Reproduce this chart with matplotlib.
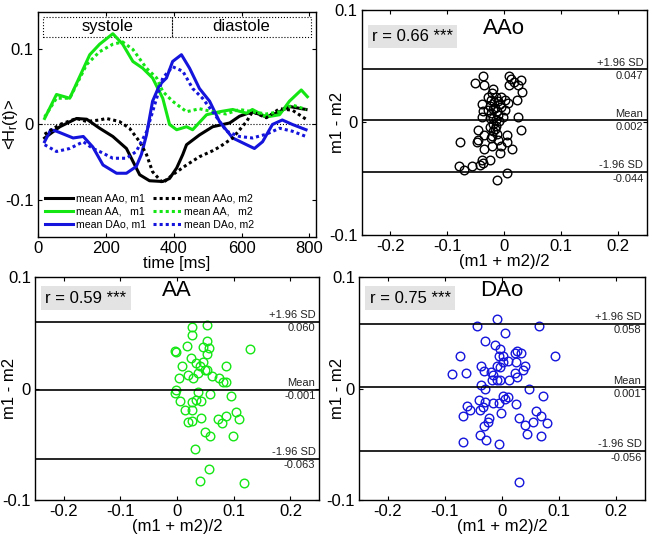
import numpy as np
import matplotlib.pyplot as plt
from matplotlib.patches import Rectangle

plt.rcParams['font.family'] = ['Liberation Sans', 'DejaVu Sans']
plt.rcParams['mathtext.default'] = 'regular'

###############################################################
# helicity curves (top-left)
###############################################################
t_aao1 = [20, 65, 114, 144, 182, 221, 261, 280, 300, 329, 368, 388, 409, 427, 438,
          476, 515, 565, 594, 632, 673, 712, 741, 790]
aao1 = [-0.018, -0.003, 0.008, 0.007, -0.005, -0.016, -0.032, -0.049, -0.067, -0.075,
        -0.076, -0.072, -0.058, -0.040, -0.027, -0.014, -0.003, 0.002, 0.011, 0.017,
        0.010, 0.017, 0.024, 0.020]
t_aao2 = [20, 65, 114, 144, 182, 202, 240, 270, 300, 320, 338, 368, 397, 438, 476,
          515, 535, 574, 615, 632, 673, 712, 750, 790]
aao2 = [-0.013, 0.000, 0.008, 0.004, 0.006, 0.008, 0.004, -0.005, -0.023, -0.040,
        -0.063, -0.078, -0.067, -0.054, -0.043, -0.035, -0.030, -0.018, 0.004, 0.017,
        0.009, 0.021, 0.019, 0.007]
t_aa1 = [20, 55, 94, 153, 182, 221, 250, 280, 309, 338, 368, 388, 409, 438, 456,
         497, 535, 574, 615, 632, 673, 712, 741, 776, 794]
aa1 = [0.008, 0.040, 0.035, 0.093, 0.107, 0.121, 0.107, 0.084, 0.075, 0.062, 0.035,
       0.000, -0.007, -0.003, -0.007, 0.013, 0.017, 0.020, 0.015, 0.020, 0.010, 0.013,
       0.031, 0.046, 0.037]
t_aa2 = [20, 55, 94, 144, 182, 221, 250, 280, 320, 350, 368, 397, 438, 476, 515,
         554, 594, 632, 673, 712, 750, 790]
aa2 = [0.010, 0.035, 0.035, 0.080, 0.097, 0.107, 0.110, 0.100, 0.075, 0.062, 0.044,
       0.031, 0.017, 0.021, 0.017, 0.014, 0.020, 0.017, 0.014, 0.017, 0.026, 0.020]
t_dao1 = [20, 38, 55, 104, 134, 162, 192, 232, 261, 290, 305, 320, 338, 359, 379,
          397, 423, 447, 476, 506, 535, 574, 615, 638, 662, 691, 720, 750, 790]
dao1 = [-0.023, -0.007, -0.009, -0.018, -0.016, -0.030, -0.054, -0.065, -0.065,
        -0.056, -0.040, -0.014, 0.031, 0.053, 0.062, 0.084, 0.093, 0.075, 0.048, 0.031,
        0.004, -0.018, -0.027, -0.032, -0.023, 0.000, 0.006, 0.000, -0.007]
t_dao2 = [20, 55, 94, 134, 162, 182, 221, 261, 290, 320, 338, 368, 397, 427, 456,
          485, 515, 556, 594, 632, 673, 712, 750, 790]
dao2 = [-0.027, -0.036, -0.032, -0.023, -0.032, -0.036, -0.045, -0.045, -0.036,
        -0.010, 0.017, 0.062, 0.077, 0.071, 0.048, 0.035, 0.017, -0.009, -0.016,
        -0.018, -0.013, -0.005, -0.009, -0.016]

phases = ['systole', 'diastole']
phase_edges = [15, 395, 805]

###############################################################
# Bland-Altman data: (m1 + m2)/2 and m1 - m2
###############################################################
aao_mean = [-0.037, -0.051, -0.036, -0.020, 0.008, 0.012, 0.009, 0.017, 0.029, 0.024,
            0.031, 0.023, -0.028, -0.014, -0.005, -0.023, -0.011, 0.001, 0.006, -0.040,
            -0.005, -0.017, -0.029, -0.037, -0.023, -0.011, 0.001, -0.040, -0.026, -0.014,
            -0.002, 0.024, -0.020, -0.026, 0.030, -0.047, -0.020, -0.035, 0.004, -0.023,
            -0.011, -0.046, -0.048, 0.005, -0.077, -0.035, -0.022, -0.006, 0.014, -0.008,
            -0.026, -0.040, -0.037, -0.043, -0.056, -0.080, -0.071, 0.005, -0.012,
            -0.018, -0.012, -0.020, -0.015, -0.019, -0.010, -0.025, -0.017, -0.022,
            -0.008, -0.013, -0.021]
aao_diff = [0.041, 0.035, 0.033, 0.030, 0.041, 0.039, 0.033, 0.036, 0.038, 0.033,
            0.027, 0.020, 0.023, 0.023, 0.023, 0.020, 0.019, 0.020, 0.017, 0.016,
            0.014, 0.013, 0.011, 0.010, 0.008, 0.007, 0.011, 0.005, 0.004, 0.002,
            0.005, 0.005, -0.001, -0.004, -0.007, -0.007, -0.008, -0.011, -0.011, -0.014,
            -0.016, -0.016, -0.017, -0.017, -0.017, -0.024, -0.021, -0.021, -0.024, -0.027,
            -0.033, -0.033, -0.036, -0.038, -0.039, -0.039, -0.042, -0.045, -0.051,
            0.018, 0.010, 0.004, -0.003, 0.012, 0.001, 0.015, -0.006, 0.026,
            0.016, -0.010, -0.012]

aa_mean = [0.026, 0.053, 0.026, 0.052, -0.001, -0.003, 0.018, 0.046, 0.057, 0.053,
           0.128, 0.024, 0.046, 0.034, 0.008, 0.049, 0.040, 0.052, 0.087, 0.004,
           0.020, 0.029, 0.037, 0.062, 0.074, 0.086, 0.081, -0.001, -0.003, 0.037,
           0.058, 0.006, 0.026, 0.034, 0.043, 0.096, 0.014, 0.026, 0.104, 0.109,
           0.020, 0.026, 0.042, 0.072, 0.086, 0.080, 0.049, 0.059, 0.098, 0.031,
           0.057, 0.040, 0.118]
aa_diff = [0.055, 0.057, 0.048, 0.043, 0.033, 0.034, 0.038, 0.037, 0.036, 0.031,
           0.035, 0.027, 0.024, 0.023, 0.020, 0.017, 0.020, 0.017, 0.020, 0.009,
           0.012, 0.009, 0.014, 0.011, 0.009, 0.006, 0.006, -0.001, -0.004, -0.003,
           -0.005, -0.011, -0.012, -0.010, -0.011, -0.007, -0.019, -0.019, -0.021, -0.027,
           -0.030, -0.029, -0.026, -0.027, -0.025, -0.031, -0.039, -0.043, -0.043, -0.054,
           -0.072, -0.083, -0.085]

dao_mean = [-0.008, -0.043, 0.064, 0.006, -0.029, -0.012, -0.003, -0.073, 0.026, 0.034,
            0.022, -0.006, 0.002, 0.011, 0.001, 0.024, 0.093, -0.036, -0.031, -0.019,
            -0.009, -0.003, 0.040, 0.036, 0.023, -0.088, -0.063, -0.015, -0.018, -0.009,
            -0.003, 0.013, 0.027, -0.036, -0.030, 0.047, 0.072, -0.040, -0.030, -0.015,
            -0.005, 0.001, 0.005, 0.011, 0.024, -0.062, -0.056, -0.038, -0.033, -0.002,
            -0.068, -0.022, -0.024, 0.029, 0.059, 0.069, 0.055, 0.078, -0.031, 0.040,
            -0.038, 0.043, 0.069, -0.068, -0.028, -0.005, 0.030]
dao_diff = [0.062, 0.056, 0.056, 0.050, 0.043, 0.039, 0.035, 0.029, 0.034, 0.032,
            0.032, 0.029, 0.029, 0.025, 0.024, 0.024, 0.029, 0.020, 0.016, 0.015,
            0.020, 0.019, 0.020, 0.017, 0.014, 0.013, 0.014, 0.012, 0.008, 0.008,
            0.008, 0.008, 0.010, 0.003, 0.000, 0.000, -0.007, -0.010, -0.012, -0.013,
            -0.013, -0.007, -0.009, -0.008, -0.014, -0.016, -0.019, -0.019, -0.017, -0.022,
            -0.025, -0.026, -0.030, -0.026, -0.020, -0.025, -0.030, -0.031, -0.034, -0.033,
            -0.042, -0.041, -0.043, -0.048, -0.046, -0.050, -0.084]

# bias and limits of agreement, correlation text
aao_lim = [0.047, 0.002, -0.044]
aa_lim = [0.060, -0.001, -0.063]
dao_lim = [0.058, 0.001, -0.056]
r_text = ['r = 0.66 ***', 'r = 0.59 ***', 'r = 0.75 ***']

green = '#14e614'
blue = '#1414dc'
fs = 12

fig = plt.figure(figsize=(6.52, 5.43), dpi=100)


def style(ax):
    ax.tick_params(direction='in', top=True, right=True, labelsize=fs, length=3,
                   width=0.8, pad=3)
    for s in ax.spines.values():
        s.set_linewidth(1.0)


###############################################################
# top-left: helicity over time
###############################################################
ax = fig.add_axes([0.058, 0.5635, 0.427, 0.4145])
lw = 2.2
dot = (0, (1, 1))
ax.axhline(0, color='k', lw=0.8, ls=':')
h1, = ax.plot(t_aao1, aao1, color='k', lw=lw)
h2, = ax.plot(t_aa1, aa1, color=green, lw=lw)
h3, = ax.plot(t_dao1, dao1, color=blue, lw=lw)
h4, = ax.plot(t_aao2, aao2, color='k', lw=lw, ls=dot)
h5, = ax.plot(t_aa2, aa2, color=green, lw=lw, ls=dot)
h6, = ax.plot(t_dao2, dao2, color=blue, lw=lw, ls=dot)
for i, name in enumerate(phases):
    ax.add_patch(Rectangle((phase_edges[i], 0.117), phase_edges[i + 1] - phase_edges[i],
                           0.026, fill=False, ls=':', lw=0.8, ec='k'))
    ax.text((phase_edges[i] + phase_edges[i + 1]) / 2, 0.130, name, ha='center',
            va='center', fontsize=fs)
ax.legend([h1, h2, h3, h4, h5, h6],
          ['mean AAo, m1', 'mean AA,   m1', 'mean DAo, m1',
           'mean AAo, m2', 'mean AA,   m2', 'mean DAo, m2'],
          ncol=2, loc='lower left', frameon=False, fontsize=7.6, handlelength=2.6,
          handletextpad=0.3, columnspacing=0.7, labelspacing=0.3,
          borderaxespad=0.3)
ax.set_xlim(0, 820)
ax.set_ylim(-0.15, 0.15)
ax.set_xticks([0, 200, 400, 600, 800])
ax.set_yticks([-0.1, 0, 0.1])
ax.set_yticklabels(['-0.1', '0', '0.1'])
ax.set_xlabel('time [ms]', fontsize=fs, labelpad=0)
ax.set_ylabel('<H$_r$(t)>', fontsize=fs)
ax.yaxis.set_label_coords(-0.065, 0.5)
style(ax)


###############################################################
# Bland-Altman panels
###############################################################
def bland_altman(rect, xm, yd, lim, color, name, rtxt, ytxt, ylab_x):
    ax = fig.add_axes(rect)
    ax.plot(xm, yd, 'o', mfc='none', mec=color, ms=6.2, mew=1.0)
    tags = ['+1.96 SD', 'Mean', '-1.96 SD']
    for v, tag in zip(lim, tags):
        ax.axhline(v, color='k', lw=1.2)
        ax.text(0.244, v + 0.0015, tag, ha='right', va='bottom', fontsize=8,
                color='#222222')
        ax.text(0.244, v - 0.0015, '%.3f' % v, ha='right', va='top', fontsize=8,
                color='#222222')
    ax.text(-0.232, ytxt, rtxt, ha='left', va='center', fontsize=fs,
            bbox=dict(boxstyle='square,pad=0.25', fc='#e3e3e3', ec='none'))
    ax.text(0.0, ytxt + 0.007, name, ha='center', va='center', fontsize=16)
    ax.set_xlim(-0.25, 0.25)
    ax.set_ylim(-0.1, 0.1)
    ax.set_xticks([-0.2, -0.1, 0, 0.1, 0.2])
    ax.set_xticklabels(['-0.2', '-0.1', '0', '0.1', '0.2'])
    ax.set_yticks([-0.1, 0, 0.1])
    ax.set_yticklabels(['-0.1', '0', '0.1'])
    ax.set_xlabel('(m1 + m2)/2', fontsize=fs, labelpad=0)
    ax.set_ylabel('m1 - m2', fontsize=fs)
    ax.yaxis.set_label_coords(ylab_x, 0.5)
    style(ax)
    return ax


bland_altman([0.555, 0.567, 0.437, 0.415], aao_mean, aao_diff, aao_lim, 'k', 'AAo',
             r_text[0], 0.076, -0.06)
bland_altman([0.054, 0.079, 0.435, 0.411], aa_mean, aa_diff, aa_lim, green, 'AA',
             r_text[1], 0.081, -0.063)
bland_altman([0.551, 0.079, 0.438, 0.411], dao_mean, dao_diff, dao_lim, blue, 'DAo',
             r_text[2], 0.081, -0.05)

plt.savefig('out.png', dpi=100)
plt.close()
